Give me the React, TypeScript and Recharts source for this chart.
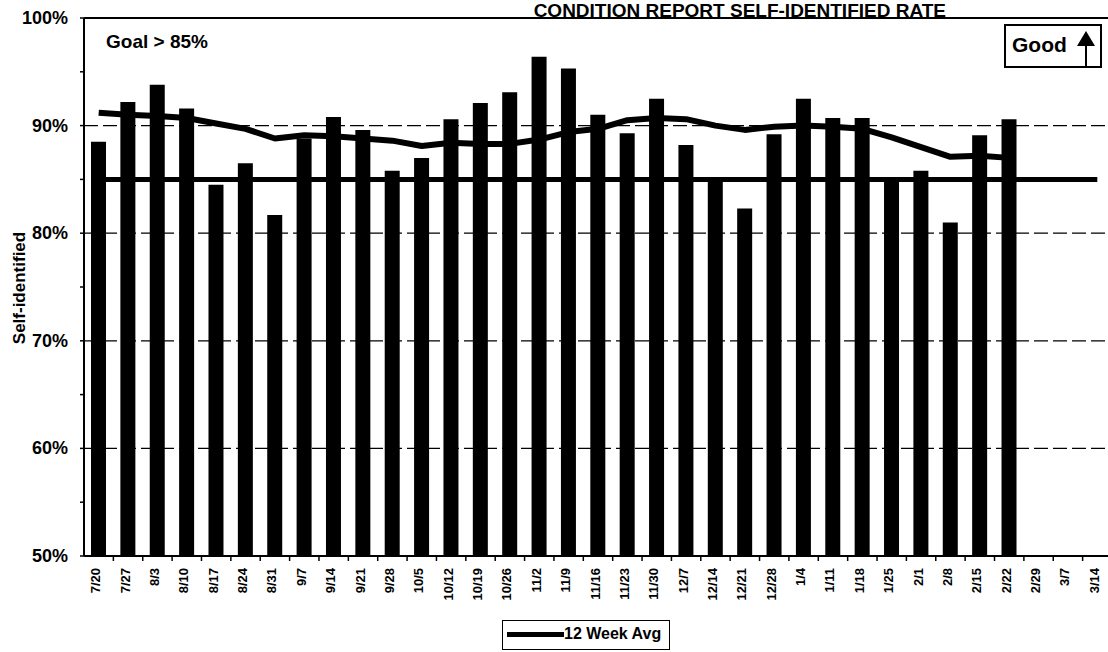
import React from "react";
import { ComposedChart, Bar, Line, XAxis, YAxis, ReferenceLine, Legend } from "recharts";

const weeks = [
  "7/20", "7/27", "8/3", "8/10", "8/17", "8/24", "8/31", "9/7", "9/14", "9/21", "9/28", "10/5",
  "10/12", "10/19", "10/26", "11/2", "11/9", "11/16", "11/23", "11/30", "12/7", "12/14", "12/21", "12/28",
  "1/4", "1/11", "1/18", "1/25", "2/1", "2/8", "2/15", "2/22", "2/29", "3/7", "3/14",
];

// weekly self-identified rate (%), no data after 2/22
const selfIdentified = [
  88.5, 92.2, 93.8, 91.6, 84.5, 86.5, 81.7, 88.8, 90.8, 89.6, 85.8, 87.0,
  90.6, 92.1, 93.1, 96.4, 95.3, 91.0, 89.3, 92.5, 88.2, 84.8, 82.3, 89.2,
  92.5, 90.7, 90.7, 85.0, 85.8, 81.0, 89.1, 90.6, null, null, null,
];

const twelveWeekAvg = [
  91.2, 91.0, 90.9, 90.7, 90.2, 89.7, 88.8, 89.1, 89.0, 88.8, 88.6, 88.1,
  88.4, 88.3, 88.3, 88.7, 89.4, 89.7, 90.5, 90.7, 90.6, 90.0, 89.6, 89.9,
  90.0, 89.9, 89.7, 88.9, 88.0, 87.1, 87.2, 87.0, null, null, null,
];

const GOAL = 85;
const yTicks = [50, 55, 60, 65, 70, 75, 80, 85, 90, 95, 100];
const gridLevels = [60, 70, 80, 90];

const FONT = '"Liberation Sans", Arial, Helvetica, sans-serif';
const W = 1132;
const H = 652;
const margin = { top: 18, right: 20, bottom: 36, left: 4 };
const Y_AXIS_W = 80;
const bandHalf = (W - margin.left - margin.right - Y_AXIS_W) / weeks.length / 2;

const data = weeks.map((week, i) => ({
  week,
  rate: selfIdentified[i],
  avg: twelveWeekAvg[i],
  goal: GOAL,
}));

function PctTick({ x, y, payload }: any) {
  if (payload.value % 10 !== 0) return <g />;
  return (
    <text x={x} y={y} dy={6} textAnchor="end" fontFamily={FONT} fontWeight={700} fontSize={18} fill="#000">
      {payload.value}%
    </text>
  );
}

function WeekTick({ x, y, payload }: any) {
  const tx = x + 1.5;
  const ty = y + 12;
  return (
    <g>
      <line x1={x + bandHalf} x2={x + bandHalf} y1={y} y2={y + 5} stroke="#000" strokeWidth={1.5} />
      <text
        x={tx}
        y={ty}
        transform={`rotate(-90 ${tx} ${ty})`}
        textAnchor="end"
        fontFamily={FONT}
        fontWeight={700}
        fontSize={13}
        fill="#000"
      >
        {payload.value}
      </text>
    </g>
  );
}

function AvgLegend({ payload }: any) {
  const items = (payload || []).filter((p: any) => p.dataKey === "avg");
  return (
    <div
      style={{
        display: "inline-flex",
        alignItems: "center",
        border: "1.5px solid #000",
        background: "#fff",
        padding: "4px 8px 6px 4px",
        fontFamily: FONT,
        fontWeight: 700,
        fontSize: 16,
        color: "#000",
        whiteSpace: "nowrap",
      }}
    >
      {items.map((p: any) => (
        <React.Fragment key={p.value}>
          <span style={{ display: "inline-block", width: 57, height: 5, background: "#000" }} />
          <span>{p.value}</span>
        </React.Fragment>
      ))}
    </div>
  );
}

export default function App() {
  return (
    <div style={{ position: "fixed", left: 0, top: 0, width: 1108, height: 652, overflow: "hidden", background: "#fff" }}>
      <ComposedChart width={W} height={H} data={data} margin={margin}>
        <XAxis
          dataKey="week"
          interval={0}
          tickLine={false}
          tickSize={0}
          tickMargin={0}
          height={60}
          axisLine={{ stroke: "#000", strokeWidth: 2 }}
          tick={<WeekTick />}
        />
        <YAxis
          type="number"
          domain={[50, 100]}
          ticks={yTicks}
          interval={0}
          width={Y_AXIS_W}
          tickSize={4}
          tickMargin={12}
          axisLine={{ stroke: "#000", strokeWidth: 2 }}
          tickLine={{ stroke: "#000", strokeWidth: 1.5 }}
          tick={<PctTick />}
        />
        {gridLevels.map((v) => (
          <ReferenceLine key={v} y={v} stroke="#000" strokeWidth={1.3} strokeDasharray="14 5" />
        ))}
        <ReferenceLine y={100} stroke="#000" strokeWidth={2} />
        <Bar dataKey="rate" fill="#000" barSize={15} legendType="none" isAnimationActive={false} />
        <Line
          dataKey="goal"
          type="linear"
          stroke="#000"
          strokeWidth={5}
          dot={false}
          legendType="none"
          isAnimationActive={false}
        />
        <Line
          dataKey="avg"
          name="12 Week Avg"
          type="linear"
          stroke="#000"
          strokeWidth={6}
          strokeLinejoin="round"
          dot={false}
          isAnimationActive={false}
        />
        <Legend
          layout="horizontal"
          verticalAlign="middle"
          align="center"
          content={<AvgLegend />}
          wrapperStyle={{ left: 502, top: 620, width: "auto", height: "auto", lineHeight: "normal" }}
        />
      </ComposedChart>
      <svg
        width={1108}
        height={652}
        style={{ position: "absolute", left: 0, top: 0, pointerEvents: "none" }}
        fontFamily={FONT}
        fontWeight={700}
      >
        <text x={946} y={17} textAnchor="end" fontSize={19} fill="#000">
          CONDITION REPORT SELF-IDENTIFIED RATE
        </text>
        <text x={106} y={48} fontSize={19} fill="#000">
          Goal &gt; 85%
        </text>
        <text
          x={25}
          y={288}
          transform="rotate(-90 25 288)"
          textAnchor="middle"
          fontSize={17}
          fill="#000"
        >
          Self-identified
        </text>
        <rect x={1005} y={25} width={96} height={42} fill="#fff" stroke="#000" strokeWidth={2} />
        <text x={1012} y={52} fontSize={21} fill="#000">
          Good
        </text>
        <polygon points="1086,31 1077,46 1095,46" fill="#000" />
        <line x1={1086} x2={1086} y1={45} y2={67} stroke="#000" strokeWidth={2} />
      </svg>
    </div>
  );
}
